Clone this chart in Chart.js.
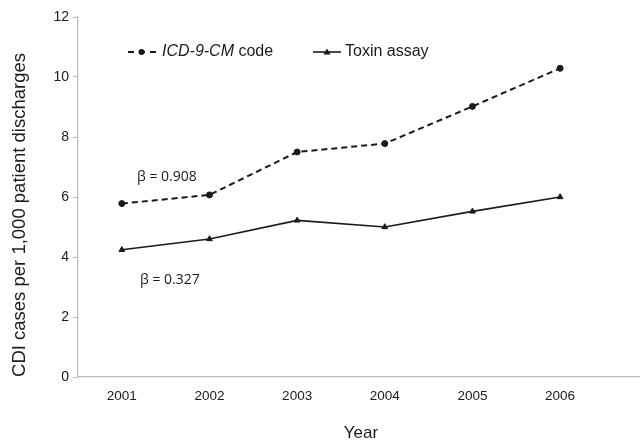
<!DOCTYPE html>
<html lang="en">
<head>
<meta charset="UTF-8">
<title>CDI cases per 1,000 patient discharges</title>
<script src="https://cdn.jsdelivr.net/npm/chart.js"></script>
<style>
    html, body { margin: 0; padding: 0; background: #fff; }
    .chart-box { width: 644px; height: 442px; position: relative; }
</style>
</head>
<body>
<div class="chart-box">
    <canvas id="cdiChart"></canvas>
</div>
<script>
    const years = [2001, 2002, 2003, 2004, 2005, 2006];
    const icdCode = [5.78, 6.07, 7.5, 7.78, 9.02, 10.29];
    const toxinAssay = [4.24, 4.6, 5.22, 5.0, 5.52, 6.0];
    const yTicks = [0, 2, 4, 6, 8, 10, 12];
    const betaLabels = ['\u03B2 = 0.908', '\u03B2 = 0.327'];

    const ink = '#1a1a1a';
    const axisGrey = '#bdbdbd';

    // legend, axis titles and beta notes drawn on the canvas
    const extras = {
        id: 'extras',
        afterDraw(chart) {
            const ctx = chart.ctx;
            ctx.save();
            ctx.fillStyle = ink;
            ctx.strokeStyle = ink;
            ctx.textBaseline = 'middle';

            // legend entry 1: dashed line with dot
            const ly = 52;
            ctx.lineWidth = 2;
            ctx.setLineDash([6, 5]);
            ctx.beginPath();
            ctx.moveTo(128, ly);
            ctx.lineTo(156, ly);
            ctx.stroke();
            ctx.setLineDash([]);
            ctx.beginPath();
            ctx.arc(141.5, ly, 3, 0, Math.PI * 2);
            ctx.fill();
            ctx.font = 'italic 16px "Liberation Sans", Arial, sans-serif';
            ctx.textAlign = 'left';
            ctx.fillText('ICD-9-CM', 162, ly);
            let w = ctx.measureText('ICD-9-CM').width;
            ctx.font = '16px "Liberation Sans", Arial, sans-serif';
            ctx.fillText(' code', 162 + w, ly);

            // legend entry 2: solid line with triangle
            ctx.lineWidth = 1.6;
            ctx.beginPath();
            ctx.moveTo(313, ly);
            ctx.lineTo(341, ly);
            ctx.stroke();
            ctx.beginPath();
            ctx.moveTo(327, ly - 3.5);
            ctx.lineTo(330.5, ly + 2.5);
            ctx.lineTo(323.5, ly + 2.5);
            ctx.closePath();
            ctx.fill();
            ctx.fillText('Toxin assay', 345, ly);

            // beta notes
            ctx.font = '14px "Open Sans", "Noto Sans", sans-serif';
            ctx.fillText(betaLabels[0], 137, 177);
            ctx.fillText(betaLabels[1], 140, 280);

            // axis titles
            ctx.textAlign = 'center';
            ctx.font = '17px "Liberation Sans", Arial, sans-serif';
            ctx.fillText('Year', 361, 433);
            ctx.translate(20, 215);
            ctx.rotate(-Math.PI / 2);
            ctx.font = '18.5px "Liberation Sans", Arial, sans-serif';
            ctx.fillText('CDI cases per 1,000 patient discharges', 0, 0);
            ctx.restore();
        }
    };

    new Chart(document.getElementById('cdiChart'), {
        type: 'line',
        data: {
            datasets: [{
                label: 'ICD-9-CM code',
                data: years.map((yr, i) => ({ x: yr, y: icdCode[i] })),
                borderColor: ink,
                backgroundColor: ink,
                borderWidth: 2,
                borderDash: [6, 4],
                pointStyle: 'circle',
                pointRadius: 3,
                pointBorderWidth: 1,
                tension: 0
            }, {
                label: 'Toxin assay',
                data: years.map((yr, i) => ({ x: yr, y: toxinAssay[i] })),
                borderColor: ink,
                backgroundColor: ink,
                borderWidth: 1.6,
                pointStyle: 'triangle',
                pointRadius: 3.3,
                pointBorderWidth: 1,
                tension: 0
            }]
        },
        options: {
            responsive: true,
            maintainAspectRatio: false,
            animation: false,
            layout: { padding: { top: 17, right: 1, left: 0, bottom: 0 } },
            plugins: {
                legend: { display: false },
                tooltip: { enabled: false }
            },
            scales: {
                x: {
                    type: 'linear',
                    min: 2000.5,
                    max: 2006.9,
                    afterBuildTicks(scale) {
                        scale.ticks = years.map(v => ({ value: v }));
                    },
                    afterFit(scale) { scale.height = 65; },
                    grid: { display: false, drawTicks: false },
                    border: { display: true, color: axisGrey, width: 1.2 },
                    ticks: {
                        padding: 11,
                        color: ink,
                        font: { family: '"Liberation Sans", Arial, sans-serif', size: 13.5 },
                        callback: v => String(v)
                    }
                },
                y: {
                    min: 0,
                    max: 12,
                    afterBuildTicks(scale) {
                        scale.ticks = yTicks.map(v => ({ value: v }));
                    },
                    afterFit(scale) { scale.width = 78; },
                    grid: { drawOnChartArea: false, drawTicks: true, tickLength: 5, color: axisGrey },
                    border: { display: true, color: axisGrey, width: 1.2 },
                    ticks: {
                        padding: 4,
                        color: ink,
                        font: { family: '"Liberation Sans", Arial, sans-serif', size: 14 }
                    }
                }
            }
        },
        plugins: [extras]
    });
</script>
</body>
</html>
